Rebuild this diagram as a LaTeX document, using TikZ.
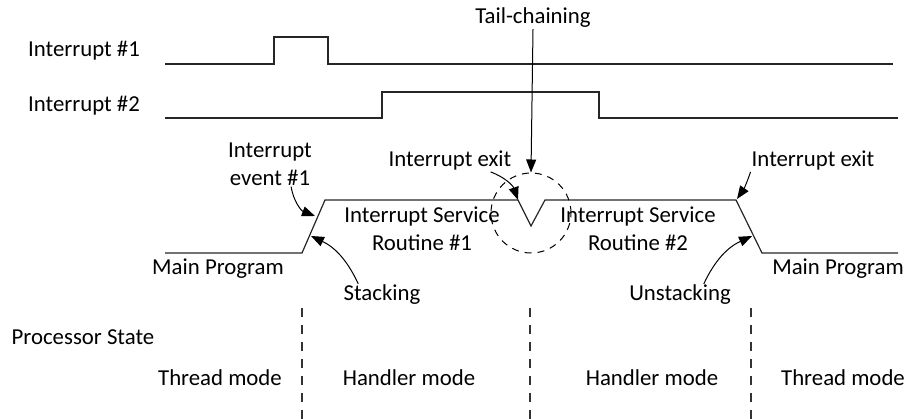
\documentclass[tikz,border=0pt]{standalone}
\usepackage{fontspec}
\setmainfont{Carlito}
\usetikzlibrary{arrows.meta, positioning, calc}

\begin{document}
\begin{tikzpicture}[
  x=1pt, y=1pt,
  font=\fontsize{22.8}{28}\selectfont,
  txt/.style={inner sep=1pt, align=center},
  wave/.style={line width=1.2pt, black!85},
  pointer/.style={-{Triangle[length=13pt, width=10pt]}, line width=1pt},
  modeline/.style={line width=1.1pt, black!80, dash pattern=on 9pt off 8pt},
  ring/.style={circle, draw, line width=1pt, dash pattern=on 7pt off 6pt, minimum size=80pt, inner sep=0pt}]

\useasboundingbox (0,0) rectangle (912,419);

% ---------- signal names
\node[txt, anchor=west] (irq1) at (27,368) {Interrupt \#1};
\node[txt, anchor=west] (irq2) at (27,313) {Interrupt \#2};

% ---------- waveforms
\draw[wave] (165,355) -- (274,355) -- (274,382) -- (328,382) -- (328,355) -- (893,355);
\draw[wave] (165,301) -- (382,301) -- (382,327) -- (599,327) -- (599,301) -- (898,301);
\draw[wave] (165,166) -- (302,166) -- (325,219) -- (518,219) -- (531,193) -- (545,219)
  -- (736,219) -- (762,166) -- (898,166);

% ---------- program labels
\node[txt] (main1) at (218,150) {Main Program};
\node[txt] (main2) at (838,150) {Main Program};
\node[txt] (isr1) at (422,190) {Interrupt Service\\Routine \#1};
\node[txt] (isr2) at (638,190) {Interrupt Service\\Routine \#2};

% ---------- events and their pointers
\node[txt] (tail) at (533,401) {Tail-chaining};
\node[ring] (tc) at (531,206) {};
\node[txt] (evt) at (270,255) {Interrupt\\event \#1};
\node[txt] (exit1) at (450,258) {Interrupt exit};
\node[txt] (exit2) at (813,258) {Interrupt exit};
\node[txt] (stack) at (382,124) {Stacking};
\node[txt] (unstack) at (680,124) {Unstacking};

\coordinate (evtip) at (315,203);
\coordinate (sttip) at (311,183);
\coordinate (vtip) at (518,219);
\coordinate (rtip) at (737,220);
\coordinate (ustip) at (752,183);

\draw[pointer] (tail.south) -- (tc.north);
\draw[pointer] (evt.-47) to[bend right=30] (evtip);
\draw[pointer] (exit1.-15) to[bend left=25] (vtip);
\draw[pointer] (exit2.south west) to[bend left=8] (rtip);
\draw[pointer] (stack.155) to[bend right=20] (sttip);
\draw[pointer] (unstack.25) to[bend left=20] (ustip);

% ---------- processor state
\node[txt] (pstate) at (83,82) {Processor State};
\node[txt] (thr1) at (220,41) {Thread mode};
\node[txt] (hnd1) at (409,41) {Handler mode};
\node[txt] (hnd2) at (652,41) {Handler mode};
\node[txt] (thr2) at (843,41) {Thread mode};

\foreach \xs in {302,530,751}
  \draw[modeline] (\xs,111) -- (\xs,0);
\end{tikzpicture}
\end{document}
